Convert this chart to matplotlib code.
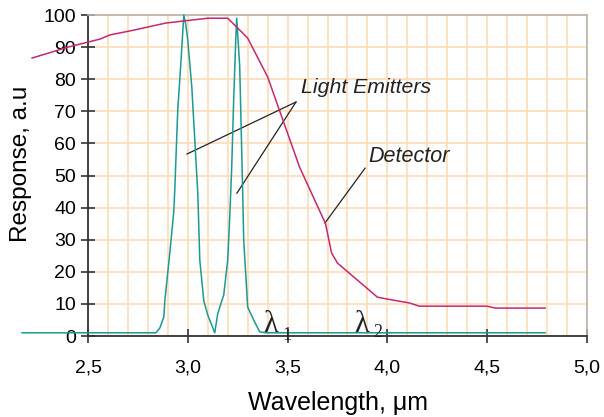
import matplotlib.pyplot as plt
from matplotlib.ticker import MultipleLocator, FuncFormatter

plt.rcParams['font.family'] = ['Liberation Sans', 'DejaVu Sans']

# detector response (magenta)
det_x = [2.22, 2.40, 2.56, 2.61, 2.73, 2.89, 3.10, 3.20, 3.26, 3.30, 3.40, 3.56,
         3.69, 3.72, 3.75, 3.95, 4.00, 4.11, 4.16, 4.50, 4.54, 4.79]
det_y = [86.6, 90.0, 92.5, 93.8, 95.3, 97.5, 99.0, 99.0, 95.3, 92.8, 80.7, 52.6,
         35.0, 25.9, 22.7, 12.1, 11.5, 10.3, 9.3, 9.3, 8.7, 8.7]

# light emitters (teal), two peaks on a common baseline
em_x = [2.17, 2.84, 2.86, 2.88, 2.885, 2.91, 2.93, 2.935, 2.95, 2.96, 2.97, 2.98,
        2.99, 3.00, 3.02, 3.05, 3.06, 3.08, 3.10, 3.12, 3.135,
        3.15, 3.18, 3.20, 3.21, 3.22, 3.23, 3.24, 3.245,
        3.25, 3.26, 3.275, 3.28, 3.30, 3.33, 3.36, 3.39, 4.79]
em_y = [1.0, 1.0, 2.5, 6.0, 11.0, 26.0, 39.0, 46.0, 71.0, 80.0, 90.0, 100.0,
        97.0, 92.0, 77.6, 44.5, 23.7, 11.0, 6.5, 3.4, 1.0,
        7.0, 12.8, 23.7, 37.0, 52.6, 74.0, 92.0, 99.0,
        94.0, 84.0, 44.5, 30.0, 9.0, 5.0, 1.3, 1.0, 1.0]

fig = plt.figure(figsize=(6.04, 4.17), dpi=100)
ax = fig.add_axes([0.1457, 0.1942, 0.8262, 0.7698])

grid_c = '#fddcb8'
ax.set_xlim(2.5, 5.0)
ax.set_ylim(0, 100)
ax.xaxis.set_major_locator(MultipleLocator(0.5))
ax.xaxis.set_minor_locator(MultipleLocator(0.1))
ax.yaxis.set_major_locator(MultipleLocator(10))
ax.grid(which='both', axis='x', color=grid_c, lw=1.2, zorder=0)
ax.grid(which='major', axis='y', color=grid_c, lw=1.2, zorder=0)
ax.set_axisbelow(True)

ax.plot(em_x, em_y, color='#1a9a90', lw=1.1, clip_on=False, zorder=3)
ax.plot(det_x, det_y, color='#c4286f', lw=1.1, clip_on=False, zorder=3)

ax.xaxis.set_major_formatter(FuncFormatter(lambda v, p: f'{v:.1f}'.replace('.', ',')))
ax.tick_params(axis='both', which='major', direction='inout', length=10, width=1.2,
               color='#333333', labelsize=14)
ax.tick_params(axis='x', which='minor', length=0)
ax.tick_params(axis='x', pad=12)
for s in ['left', 'bottom']:
    ax.spines[s].set_color('#333333')
    ax.spines[s].set_linewidth(1.3)
for s in ['top', 'right']:
    ax.spines[s].set_color('#bdb2a8')
    ax.spines[s].set_linewidth(1.2)

ax.set_xlabel('Wavelength, μm', fontsize=18, labelpad=10)
ax.set_ylabel('Response, a.u', fontsize=17.5)
ax.yaxis.set_label_coords(-0.112, 0.536)

# annotations
ax.text(3.567, 77.3, 'Light Emitters', fontsize=15.3, style='italic', va='center', color='#222222')
ax.plot([2.996, 3.542], [56.7, 72.9], color='#222222', lw=0.9)
ax.plot([3.246, 3.542], [44.5, 72.9], color='#222222', lw=0.9)
ax.text(3.903, 55.8, 'Detector', fontsize=15.5, style='italic', va='center', color='#222222')
ax.plot([3.687, 3.888], [35.2, 52.3], color='#222222', lw=0.9)

# wavelength markers
ax.text(3.38, 1.2, 'λ', fontsize=22, family='Liberation Serif', va='baseline', color='#222222')
ax.text(3.472, -1.1, '1', fontsize=13, family='Liberation Serif', va='baseline', color='#222222')
ax.text(3.835, 1.2, 'λ', fontsize=22, family='Liberation Serif', va='baseline', color='#222222')
ax.text(3.927, -0.2, '2', fontsize=13, family='Liberation Serif', va='baseline', color='#222222')

fig.savefig('out.png', dpi=100)
